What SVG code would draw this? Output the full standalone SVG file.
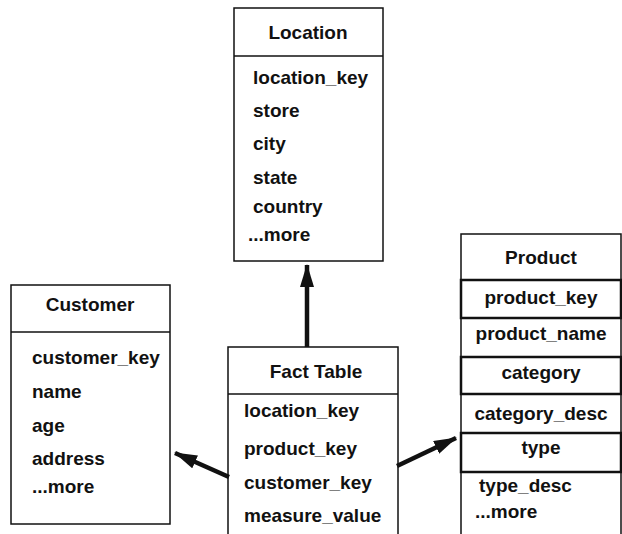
<svg xmlns="http://www.w3.org/2000/svg" width="622" height="534" viewBox="0 0 622 534">
  <style>
    .box { fill: #fff; stroke: #111; stroke-width: 1.5; }
    .key { fill: none; stroke: #111; stroke-width: 2.5; }
    .rule { stroke: #111; stroke-width: 1.5; }
    .title { font-family: "Liberation Sans", Arial, sans-serif; font-weight: bold; font-size: 19px; fill: #111; text-anchor: middle; }
    .item { font-family: "Liberation Sans", Arial, sans-serif; font-weight: bold; font-size: 19px; fill: #111; }
    .mid { text-anchor: middle; }
    .link { stroke: #111; stroke-width: 4.5; fill: none; marker-end: url(#head); }
  </style>
  <defs>
    <marker id="head" markerUnits="userSpaceOnUse" viewBox="0 0 23 14" refX="22" refY="7" markerWidth="23" markerHeight="14" orient="auto">
      <path d="M0,0 L23,7 L0,14 Z" fill="#111"/>
    </marker>
  </defs>
  <rect width="622" height="534" fill="#fff"/>

  <!-- Location dimension -->
  <g id="location">
    <rect class="box" x="234" y="8" width="149" height="253"/>
    <line class="rule" x1="234" y1="56" x2="383" y2="56"/>
    <text class="title" x="308" y="39">Location</text>
    <text class="item" x="253" y="84">location_key</text>
    <text class="item" x="253" y="117">store</text>
    <text class="item" x="253" y="150">city</text>
    <text class="item" x="253" y="184">state</text>
    <text class="item" x="253" y="213">country</text>
    <text class="item" x="248" y="241">...more</text>
  </g>

  <!-- Customer dimension -->
  <g id="customer">
    <rect class="box" x="11" y="285" width="159" height="239"/>
    <line class="rule" x1="11" y1="332" x2="170" y2="332"/>
    <text class="title" x="90" y="311">Customer</text>
    <text class="item" x="32" y="364">customer_key</text>
    <text class="item" x="32" y="398">name</text>
    <text class="item" x="32" y="432">age</text>
    <text class="item" x="32" y="465">address</text>
    <text class="item" x="32" y="493">...more</text>
  </g>

  <!-- Fact table -->
  <g id="fact">
    <rect class="box" x="228" y="347" width="170" height="200"/>
    <line class="rule" x1="228" y1="394" x2="398" y2="394"/>
    <text class="title" x="316" y="378">Fact Table</text>
    <text class="item" x="244" y="417">location_key</text>
    <text class="item" x="244" y="455">product_key</text>
    <text class="item" x="244" y="489">customer_key</text>
    <text class="item" x="244" y="522">measure_value</text>
  </g>

  <!-- Product dimension with snowflaked keys -->
  <g id="product">
    <rect class="box" x="461" y="234" width="160" height="310"/>
    <text class="title" x="541" y="264">Product</text>
    <rect class="key" x="461" y="280" width="160" height="38"/>
    <text class="item mid" x="541" y="304">product_key</text>
    <text class="item mid" x="541" y="340">product_name</text>
    <rect class="key" x="461" y="357" width="160" height="37"/>
    <text class="item mid" x="541" y="379">category</text>
    <text class="item mid" x="541" y="420">category_desc</text>
    <rect class="key" x="461" y="433" width="160" height="39"/>
    <text class="item mid" x="541" y="454">type</text>
    <text class="item" x="479" y="492">type_desc</text>
    <text class="item" x="475" y="518">...more</text>
  </g>

  <!-- Connectors from the fact table to each dimension -->
  <g id="connectors">
    <line class="link" x1="307" y1="347" x2="307" y2="265"/>
    <line class="link" x1="229" y1="477" x2="175" y2="453"/>
    <line class="link" x1="397" y1="466" x2="456" y2="438"/>
  </g>
</svg>
